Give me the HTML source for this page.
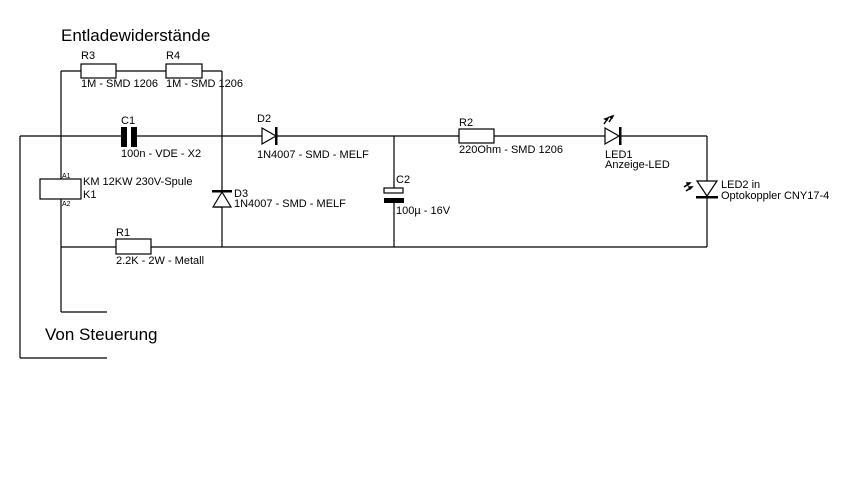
<!DOCTYPE html>
<html><head><meta charset="utf-8"><style>
html,body{margin:0;padding:0;background:#fff;}
svg{display:block;}
text{font-family:"Liberation Sans",Arial,sans-serif;font-size:11px;fill:#000;}
.big{font-size:17px;}
.s{font-size:7px;}
</style></head><body>
<svg width="857" height="504" viewBox="0 0 857 504" xmlns="http://www.w3.org/2000/svg">
<g stroke="#000" stroke-width="1.2" fill="none">
<!-- top main line -->
<line x1="20" y1="136" x2="121" y2="136"/>
<line x1="137" y1="136" x2="262" y2="136"/>
<line x1="277" y1="136" x2="459" y2="136"/>
<line x1="494" y1="136" x2="605" y2="136"/>
<line x1="621" y1="136" x2="707" y2="136"/>
<!-- outer left -->
<line x1="20" y1="136" x2="20" y2="358"/>
<line x1="20" y1="358" x2="107" y2="358"/>
<!-- relay column -->
<line x1="61" y1="71" x2="61" y2="179"/>
<line x1="61" y1="199" x2="61" y2="312"/>
<line x1="61" y1="312" x2="107" y2="312"/>
<!-- R3/R4 line -->
<line x1="61" y1="71" x2="81" y2="71"/>
<line x1="116" y1="71" x2="166" y2="71"/>
<line x1="202" y1="71" x2="222" y2="71"/>
<line x1="222" y1="71" x2="222" y2="191"/>
<line x1="222" y1="207" x2="222" y2="247"/>
<rect x="81" y="64" width="35" height="14"/>
<rect x="166" y="64" width="36" height="14"/>
<!-- relay box -->
<rect x="40" y="179" width="41" height="20"/>
<!-- bottom line -->
<line x1="61" y1="247" x2="116" y2="247"/>
<line x1="151" y1="247" x2="707" y2="247"/>
<rect x="116" y="239" width="35" height="15"/>
<!-- D2 -->
<polygon points="262,128 276,136 262,144"/>
<!-- D3 -->
<polygon points="213,207 222,192 231,207"/>
<line x1="222" y1="207" x2="213" y2="207"/>
<!-- C2 -->
<line x1="394" y1="136" x2="394" y2="188"/>
<line x1="394" y1="203" x2="394" y2="247"/>
<rect x="384" y="188" width="19" height="5"/>
<!-- R2 -->
<rect x="459" y="129" width="35" height="14"/>
<!-- LED1 -->
<polygon points="605,128 619,136 605,144"/>
<!-- right -->
<line x1="707" y1="136" x2="707" y2="181"/>
<line x1="707" y1="197" x2="707" y2="247"/>
<polygon points="697,181 717,181 707,196"/>
</g>
<g fill="#000">
<rect x="121" y="127" width="6" height="20"/>
<rect x="131" y="127" width="6" height="20"/>
<rect x="275" y="127" width="2.5" height="18"/>
<rect x="212" y="190" width="20" height="2.5"/>
<rect x="384" y="198" width="20" height="5"/>
<rect x="619" y="127" width="2.5" height="18"/>
<rect x="696" y="196" width="22" height="2.5"/>
<!-- light arrows LED1 -->
<path d="M604,124 l4,-6 M608,118 l-3,1 l2,1 z M609,122 l4,-6 M613,116 l-3,1 l2,1 z" stroke="#000" stroke-width="1.5"/>
<path d="M684,187 l6,-4 M690,183 l-3,0 l1,2 z M686,191 l6,-4 M692,187 l-3,0 l1,2 z" stroke="#000" stroke-width="1.5"/>
</g>
<text class="big" x="61" y="41">Entladewiderstände</text>
<text x="81" y="59">R3</text>
<text x="81" y="87">1M - SMD 1206</text>
<text x="166" y="59">R4</text>
<text x="166" y="87">1M - SMD 1206</text>
<text x="121" y="124">C1</text>
<text x="121" y="157">100n - VDE - X2</text>
<text x="257" y="122">D2</text>
<text x="257" y="158">1N4007 - SMD - MELF</text>
<text class="s" x="62" y="178">A1</text>
<text class="s" x="62" y="206">A2</text>
<text x="83" y="185">KM 12KW 230V-Spule</text>
<text x="83" y="198">K1</text>
<text x="234" y="197">D3</text>
<text x="234" y="207">1N4007 - SMD - MELF</text>
<text x="396" y="183">C2</text>
<text x="396" y="214">100µ - 16V</text>
<text x="116" y="236">R1</text>
<text x="116" y="264">2.2K - 2W - Metall</text>
<text x="459" y="126">R2</text>
<text x="459" y="153">220Ohm - SMD 1206</text>
<text x="605" y="158">LED1</text>
<text x="605" y="168">Anzeige-LED</text>
<text x="721" y="188">LED2 in</text>
<text x="721" y="199">Optokoppler CNY17-4</text>
<text class="big" x="45" y="340">Von Steuerung</text>
</svg>
</body></html>
